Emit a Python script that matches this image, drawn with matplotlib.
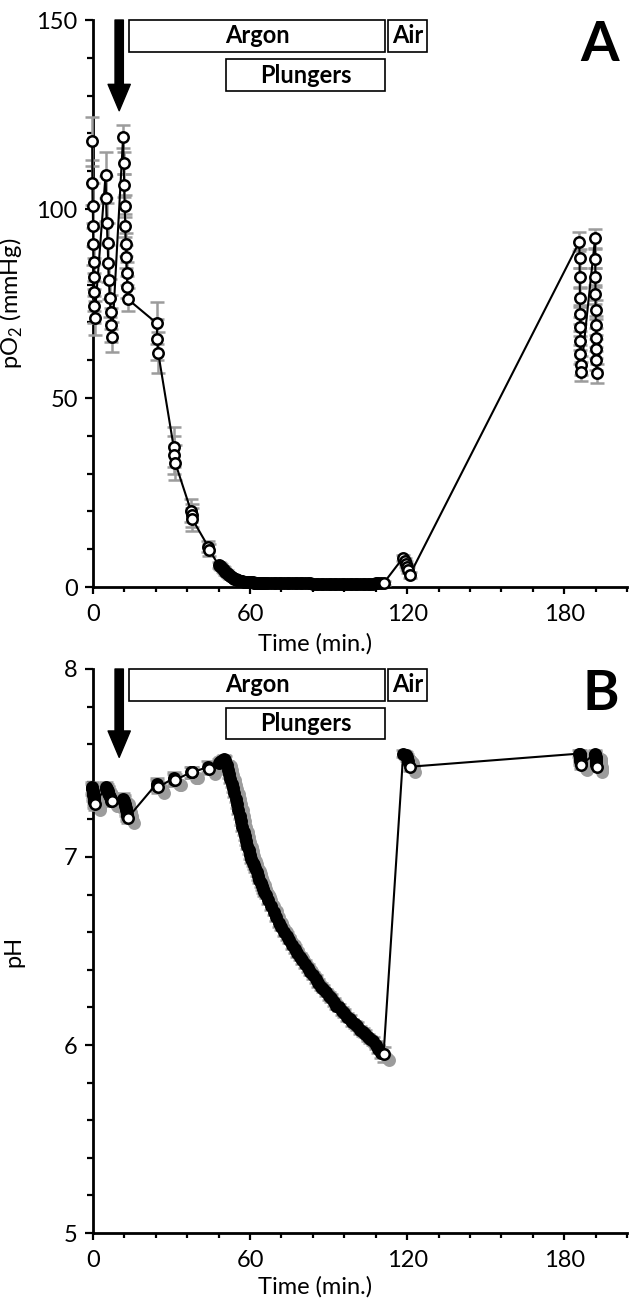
import matplotlib.pyplot as plt
from matplotlib.patches import Rectangle
from matplotlib.transforms import blended_transform_factory, offset_copy

plt.rcParams['font.family'] = ['Lato', 'DejaVu Sans']

# time points (min), one list per sampling block
c1_t = [-0.3, -0.2, -0.1, 0.0, 0.1, 0.2, 0.3, 0.4, 0.5, 0.6]
c2_t = [4.8, 5.0, 5.3, 5.6, 5.8, 6.1, 6.4, 6.7, 7.0, 7.3]
c3_t = [11.5, 11.7, 11.9, 12.1, 12.3, 12.5, 12.7, 12.9, 13.1, 13.4]
g24_t = [24.3, 24.6, 24.9]
g31_t = [30.8, 31.1, 31.4]
g38_t = [37.4, 37.7, 38.0]
g44_t = [44.0, 44.4]
dense_t = [48.0, 48.5, 49.0, 49.5, 50.0, 50.5, 51.0, 51.5, 52.0, 52.5,
           53.0, 53.5, 54.0, 54.5, 55.0, 55.5, 56.0, 56.5, 57.0, 57.5,
           58.0, 58.5, 59.0, 59.5, 60.0, 60.5, 61.0, 61.5, 62.0, 62.5,
           63.0, 63.5, 64.0, 64.5, 65.0, 65.5, 66.0,
           67, 68, 69, 70, 71, 72, 73, 74, 75, 76,
           77, 78, 79, 80, 81, 82, 83, 84, 85, 86,
           87, 88, 89, 90, 91, 92, 93, 94, 95, 96,
           97, 98, 99, 100, 101, 102, 103, 104, 105, 106,
           107, 108, 109, 110, 111]
c120_t = [118.5, 119.0, 119.5, 120.0, 120.5, 121.0]
c186_t = [185.8, 185.85, 185.9, 185.95, 186.0, 186.1, 186.15, 186.2, 186.3, 186.4]
c192_t = [191.8, 191.85, 191.9, 191.95, 192.0, 192.1, 192.15, 192.2, 192.3, 192.4]

# pO2 (mmHg)
po2_c1 = [117.9, 107.0, 100.9, 95.6, 90.7, 86.0, 82.0, 78.0, 74.3, 71.1]
po2_c2 = [109.0, 102.8, 96.2, 90.9, 85.6, 81.2, 76.4, 72.8, 69.3, 66.1]
po2_c3 = [119.1, 112.2, 106.3, 100.8, 95.6, 90.7, 87.4, 83.0, 79.4, 76.1]
po2_g24 = [69.8, 65.5, 62.0]
po2_g31 = [37.1, 34.9, 32.9]
po2_g38 = [20.2, 19.0, 17.9]
po2_g44 = [10.7, 9.8]
po2_dense = [5.8, 5.5, 5.2, 4.8, 4.4, 4.0, 3.7, 3.4, 3.1, 2.8,
             2.6, 2.4, 2.2, 2.0, 1.9, 1.8, 1.7, 1.6, 1.5, 1.45,
             1.4, 1.35, 1.3, 1.25, 1.2, 1.2, 1.2, 1.15, 1.15, 1.1,
             1.1, 1.1, 1.1, 1.1, 1.1, 1.1, 1.1,
             1.1, 1.1, 1.05, 1.05, 1.05, 1.0, 1.0, 1.0, 1.0, 1.0,
             1.0, 1.0, 0.95, 0.95, 0.95, 0.95, 0.95, 0.9, 0.9, 0.9,
             0.9, 0.9, 0.9, 0.9, 0.9, 0.9, 0.9, 0.9, 0.9, 0.9,
             0.9, 0.9, 0.9, 0.9, 0.9, 0.9, 0.9, 0.9, 0.9, 0.9,
             0.9, 0.95, 0.95, 1.0, 1.0]
po2_c120 = [7.8, 7.0, 6.2, 5.3, 4.4, 3.2]
po2_c186 = [91.3, 87.0, 82.0, 76.5, 72.2, 68.8, 65.1, 61.6, 58.7, 56.9]
po2_c192 = [92.3, 86.8, 82.0, 77.5, 73.3, 69.3, 65.9, 63.0, 60.0, 56.6]

po2_err_c1 = [6.5, 6.0, 6.0, 5.5, 5.5, 5.0, 5.0, 5.0, 4.5, 4.5]
po2_err_c2 = [6.0, 6.0, 5.5, 5.5, 5.0, 5.0, 5.0, 4.5, 4.5, 4.0]
po2_err_c3 = [3.0, 3.0, 3.0, 3.0, 3.0, 3.0, 3.0, 3.0, 3.0, 3.0]
po2_err_g24 = [5.5, 5.5, 5.5]
po2_err_g31 = [5.3, 5.0, 4.6]
po2_err_g38 = [3.0, 3.0, 3.0]
po2_err_g44 = [1.5, 1.5]
po2_err_dense = [0.8, 0.8, 0.8, 0.8, 0.8, 0.7, 0.7, 0.7, 0.6, 0.6,
                 0.6, 0.5, 0.5, 0.5, 0.5, 0.5, 0.5, 0.5, 0.5, 0.5,
                 0.5, 0.5, 0.5, 0.5, 0.5, 0.5, 0.5, 0.5, 0.5, 0.5,
                 0.5, 0.5, 0.5, 0.5, 0.5, 0.5, 0.5,
                 0.5, 0.5, 0.5, 0.5, 0.5, 0.5, 0.5, 0.5, 0.5, 0.5,
                 0.5, 0.5, 0.5, 0.5, 0.5, 0.5, 0.5, 0.5, 0.5, 0.5,
                 0.5, 0.5, 0.5, 0.5, 0.5, 0.5, 0.5, 0.5, 0.5, 0.5,
                 0.5, 0.5, 0.5, 0.5, 0.5, 0.5, 0.5, 0.5, 0.5, 0.5,
                 0.5, 0.5, 0.5, 0.5, 0.5]
po2_err_c120 = [0.8, 0.8, 0.8, 0.8, 0.8, 0.8]
po2_err_c186 = [2.5, 2.5, 2.5, 2.5, 2.5, 2.5, 2.5, 2.5, 2.5, 2.5]
po2_err_c192 = [2.5, 2.5, 2.5, 2.5, 2.5, 2.5, 2.5, 2.5, 2.5, 2.5]

# pH
ph_c1 = [7.37, 7.36, 7.35, 7.34, 7.33, 7.32, 7.31, 7.30, 7.29, 7.28]
ph_c2 = [7.37, 7.36, 7.36, 7.35, 7.34, 7.33, 7.32, 7.31, 7.30, 7.30]
ph_c3 = [7.31, 7.30, 7.29, 7.28, 7.27, 7.26, 7.25, 7.23, 7.22, 7.21]
ph_g24 = [7.39, 7.38, 7.37]
ph_g31 = [7.42, 7.41, 7.41]
ph_g38 = [7.45, 7.45, 7.45]
ph_g44 = [7.48, 7.47]
ph_dense = [7.50, 7.505, 7.51, 7.515, 7.52, 7.515, 7.49, 7.465, 7.44, 7.415,
            7.39, 7.365, 7.34, 7.31, 7.28, 7.25, 7.22, 7.19, 7.16, 7.135,
            7.11, 7.085, 7.06, 7.035, 7.01, 6.99, 6.97, 6.955, 6.94, 6.92,
            6.90, 6.88, 6.86, 6.845, 6.83, 6.815, 6.80,
            6.77, 6.74, 6.71, 6.68, 6.65, 6.63, 6.60, 6.58, 6.56, 6.53,
            6.51, 6.49, 6.47, 6.45, 6.43, 6.41, 6.39, 6.37, 6.35, 6.33,
            6.31, 6.30, 6.28, 6.26, 6.25, 6.23, 6.21, 6.20, 6.18, 6.17,
            6.15, 6.14, 6.12, 6.11, 6.10, 6.08, 6.07, 6.06, 6.04, 6.03,
            6.02, 6.00, 5.98, 5.96, 5.95]
ph_c120 = [7.55, 7.545, 7.54, 7.53, 7.51, 7.48]
ph_c186 = [7.55, 7.55, 7.545, 7.54, 7.535, 7.53, 7.52, 7.51, 7.50, 7.49]
ph_c192 = [7.55, 7.545, 7.54, 7.535, 7.53, 7.52, 7.51, 7.50, 7.49, 7.48]

ph_err_c1 = [0.03, 0.03, 0.03, 0.03, 0.03, 0.03, 0.03, 0.03, 0.03, 0.03]
ph_err_c2 = [0.03, 0.03, 0.03, 0.03, 0.03, 0.03, 0.03, 0.03, 0.03, 0.03]
ph_err_c3 = [0.03, 0.03, 0.03, 0.03, 0.03, 0.03, 0.03, 0.03, 0.03, 0.03]
ph_err_g24 = [0.03, 0.03, 0.03]
ph_err_g31 = [0.03, 0.03, 0.03]
ph_err_g38 = [0.03, 0.03, 0.03]
ph_err_g44 = [0.03, 0.03]
ph_err_dense = [0.02, 0.02, 0.02, 0.02, 0.02, 0.02, 0.02, 0.02, 0.02, 0.02,
                0.02, 0.02, 0.02, 0.02, 0.02, 0.02, 0.02, 0.02, 0.02, 0.02,
                0.02, 0.02, 0.02, 0.02, 0.02, 0.02, 0.02, 0.02, 0.02, 0.02,
                0.02, 0.02, 0.02, 0.02, 0.02, 0.02, 0.02,
                0.02, 0.02, 0.02, 0.02, 0.02, 0.02, 0.02, 0.02, 0.02, 0.02,
                0.02, 0.02, 0.02, 0.02, 0.02, 0.02, 0.02, 0.02, 0.02, 0.02,
                0.02, 0.02, 0.02, 0.02, 0.02, 0.02, 0.02, 0.02, 0.02, 0.02,
                0.02, 0.02, 0.02, 0.02, 0.02, 0.02, 0.02, 0.02, 0.02, 0.02,
                0.02, 0.02, 0.02, 0.03, 0.04]
ph_err_c120 = [0.02, 0.02, 0.02, 0.02, 0.02, 0.02]
ph_err_c186 = [0.02, 0.02, 0.02, 0.02, 0.02, 0.02, 0.02, 0.02, 0.02, 0.02]
ph_err_c192 = [0.02, 0.02, 0.02, 0.02, 0.02, 0.02, 0.02, 0.02, 0.02, 0.02]

# gas / plunger periods (min)
argon_span = (13.9, 111.6)
air_span = (112.8, 127.4)
plunger_span = (50.7, 111.6)
arrow_time = 10

time_blocks = [c1_t, c2_t, c3_t, g24_t, g31_t, g38_t, g44_t, dense_t, c120_t, c186_t, c192_t]
po2_blocks = [po2_c1, po2_c2, po2_c3, po2_g24, po2_g31, po2_g38, po2_g44,
              po2_dense, po2_c120, po2_c186, po2_c192]
po2_err_blocks = [po2_err_c1, po2_err_c2, po2_err_c3, po2_err_g24, po2_err_g31,
                  po2_err_g38, po2_err_g44, po2_err_dense, po2_err_c120,
                  po2_err_c186, po2_err_c192]
ph_blocks = [ph_c1, ph_c2, ph_c3, ph_g24, ph_g31, ph_g38, ph_g44,
             ph_dense, ph_c120, ph_c186, ph_c192]
ph_err_blocks = [ph_err_c1, ph_err_c2, ph_err_c3, ph_err_g24, ph_err_g31,
                 ph_err_g38, ph_err_g44, ph_err_dense, ph_err_c120,
                 ph_err_c186, ph_err_c192]
# blocks whose markers pile up into a solid black band
po2_solid = [False, False, False, False, False, False, False, True, False, False, False]
ph_solid = [True, True, True, True, True, True, True, True, True, True, True]

fig = plt.figure(figsize=(6.31, 12.99), dpi=100)
axA = fig.add_axes([0.1474, 0.5481, 0.8463, 0.4365])
axB = fig.add_axes([0.1474, 0.0508, 0.8463, 0.4342])

FS = 17
GREY = '#9c9c9c'


def style_axis(ax, ylim, major, minor):
    ax.set_xlim(0, 204)
    ax.set_ylim(*ylim)
    ax.set_xticks([0, 60, 120, 180])
    ax.set_xticks([12, 24, 36, 48, 72, 84, 96, 108, 132, 144, 156, 168, 192, 204], minor=True)
    ax.set_yticks(major)
    ax.set_yticks(minor, minor=True)
    for s in ['top', 'right']:
        ax.spines[s].set_visible(False)
    for s in ['left', 'bottom']:
        ax.spines[s].set_linewidth(2)
    ax.tick_params(axis='y', which='major', direction='out', length=6, width=1.6, labelsize=FS, pad=5)
    ax.tick_params(axis='y', which='minor', direction='out', length=4, width=1.6)
    ax.tick_params(axis='x', which='major', direction='out', length=5, width=1.6, labelsize=FS, pad=7)
    ax.tick_params(axis='x', which='minor', direction='out', length=3.5, width=1.6)


def draw_series(ax, y_blocks, err_blocks, solid, shadow=False):
    t_all = sum(time_blocks, [])
    y_all = sum(y_blocks, [])
    e_all = sum(err_blocks, [])
    ax.errorbar(t_all, y_all, yerr=e_all, fmt='-', color='black', lw=1.5,
                ecolor=GREY, elinewidth=1.8, capsize=5, capthick=1.8,
                clip_on=False, zorder=3)
    if shadow:
        # soft drop shadow under the markers, offset down-right
        sh = offset_copy(ax.transData, fig=fig, x=4, y=-4, units='points')
        ax.plot(t_all, y_all, ls='none', marker='o', ms=7.5, mfc=GREY, mec=GREY,
                mew=1.8, transform=sh, clip_on=False, zorder=2.5)
    mk = dict(ls='none', marker='o', ms=7.5, mec='black', mew=1.8, clip_on=False, zorder=4)
    for t, y, s in zip(time_blocks, y_blocks, solid):
        if s:
            ax.plot(t[:-1], y[:-1], mfc='black', **mk)
            ax.plot(t[-1:], y[-1:], mfc='white', **mk)
        else:
            ax.plot(t, y, mfc='white', **mk)


def draw_boxes(ax, letter, tip):
    tr = blended_transform_factory(ax.transData, ax.transAxes)
    boxes = [(argon_span, 0.944, 0.056, 'Argon'),
             (air_span, 0.944, 0.056, 'Air'),
             (plunger_span, 0.875, 0.056, 'Plungers')]
    for (x0, x1), y0, h, label in boxes:
        ax.add_patch(Rectangle((x0, y0), x1 - x0, h, transform=tr, fill=False,
                               ec='black', lw=1.2, clip_on=False))
        ax.text((x0 + x1) / 2, y0 + h / 2, label, transform=tr, ha='center',
                va='center', fontsize=FS, fontweight='bold')
    ax.annotate('', xy=(arrow_time, tip), xytext=(arrow_time, ax.get_ylim()[1]),
                arrowprops=dict(facecolor='black', edgecolor='black', width=6,
                                headwidth=16, headlength=19, shrink=0))
    ax.text(0.985, 1.0, letter, transform=ax.transAxes, ha='right', va='top',
            fontsize=40, fontweight='bold')


style_axis(axA, (0, 150), [0, 50, 100, 150], [10, 20, 30, 40, 60, 70, 80, 90, 110, 120, 130, 140])
draw_series(axA, po2_blocks, po2_err_blocks, po2_solid)
draw_boxes(axA, 'A', 126)
axA.set_xlabel('Time (min.)', fontsize=FS)
axA.xaxis.set_label_coords(0.416, -0.081)
axA.set_ylabel(r'pO$_\mathregular{2}$ (mmHg)', fontsize=FS)
axA.yaxis.set_label_coords(-0.128, 0.5)

style_axis(axB, (5, 8), [5, 6, 7, 8], [5.2, 5.4, 5.6, 5.8, 6.2, 6.4, 6.6, 6.8, 7.2, 7.4, 7.6, 7.8])
draw_series(axB, ph_blocks, ph_err_blocks, ph_solid, shadow=True)
draw_boxes(axB, 'B', 7.53)
axB.set_xlabel('Time (min.)', fontsize=FS)
axB.xaxis.set_label_coords(0.416, -0.076)
axB.set_ylabel('pH', fontsize=FS)
axB.yaxis.set_label_coords(-0.128, 0.5)

fig.savefig('out.png', dpi=100)
